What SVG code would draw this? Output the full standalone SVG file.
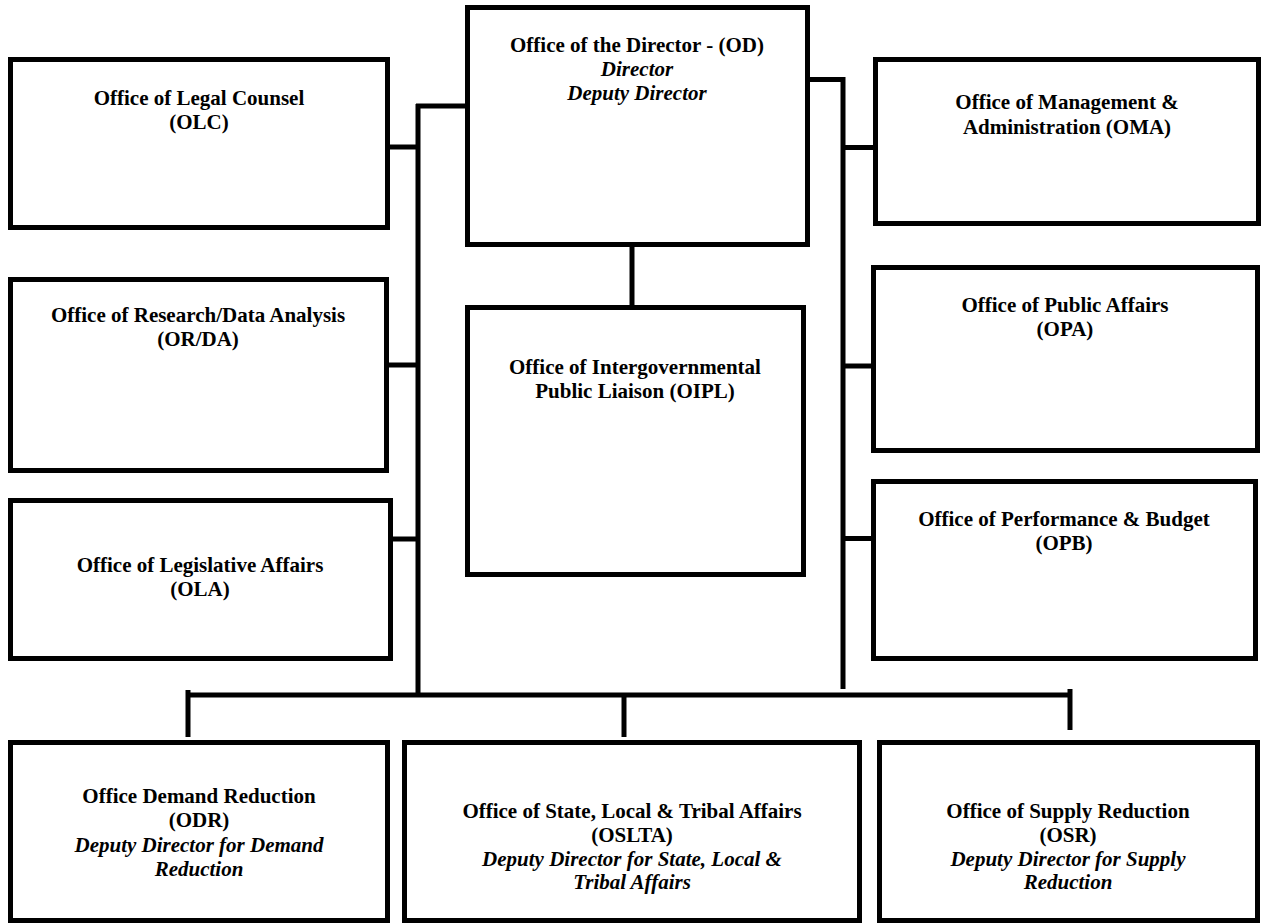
<svg xmlns="http://www.w3.org/2000/svg" width="1262" height="924" viewBox="0 0 1262 924">
<style>
.box{fill:#fff;stroke:#000;stroke-width:5}
.ln{fill:none;stroke:#000;stroke-width:5}
text{font-family:"Liberation Serif","Times New Roman",serif;font-size:21px;font-weight:bold;text-anchor:middle;fill:#000}
.it{font-style:italic}
</style>
<rect width="1262" height="924" fill="#fff"/>
<g id="connectors">
<path class="ln" d="M418,104 V697"/>
<path class="ln" d="M416,106 H467"/>
<path class="ln" d="M390,147 H418"/>
<path class="ln" d="M389,365 H418"/>
<path class="ln" d="M393,539 H418"/>
<path class="ln" d="M843,77 V689"/>
<path class="ln" d="M808,79.5 H845"/>
<path class="ln" d="M843,147.5 H875"/>
<path class="ln" d="M843,366 H873"/>
<path class="ln" d="M843,538.5 H873"/>
<path class="ln" d="M632,247 V307"/>
<path class="ln" d="M186,695 H1072"/>
<path class="ln" d="M188,690 V737"/>
<path class="ln" d="M624,695 V737"/>
<path class="ln" d="M1070,689 V730"/>
</g>
<g id="OLC">
<rect class="box" x="10.5" y="59.5" width="377" height="168"/>
<text x="199" y="105">Office of Legal Counsel</text>
<text x="199" y="129">(OLC)</text>
</g>
<g id="OD">
<rect class="box" x="467.5" y="7.5" width="340" height="237"/>
<text x="637" y="52">Office of the Director - (OD)</text>
<text x="637" y="76" class="it">Director</text>
<text x="637" y="100" class="it">Deputy Director</text>
</g>
<g id="OIPL">
<rect class="box" x="467.5" y="307.5" width="336" height="267"/>
<text x="635" y="374">Office of Intergovernmental</text>
<text x="635" y="398">Public Liaison (OIPL)</text>
</g>
<g id="OMA">
<rect class="box" x="875.5" y="59.5" width="383" height="164"/>
<text x="1067" y="109">Office of Management &amp;</text>
<text x="1067" y="134">Administration (OMA)</text>
</g>
<g id="ORDA">
<rect class="box" x="10.5" y="279.5" width="376" height="191"/>
<text x="198" y="322">Office of Research/Data Analysis</text>
<text x="198" y="346">(OR/DA)</text>
</g>
<g id="OPA">
<rect class="box" x="873.5" y="267.5" width="384" height="183"/>
<text x="1065" y="312">Office of Public Affairs</text>
<text x="1065" y="336">(OPA)</text>
</g>
<g id="OLA">
<rect class="box" x="10.5" y="500.5" width="380" height="158"/>
<text x="200" y="572">Office of Legislative Affairs</text>
<text x="200" y="596">(OLA)</text>
</g>
<g id="OPB">
<rect class="box" x="873.5" y="481.5" width="382" height="177"/>
<text x="1064" y="526">Office of Performance &amp; Budget</text>
<text x="1064" y="550">(OPB)</text>
</g>
<g id="ODR">
<rect class="box" x="10.5" y="742.5" width="377" height="178"/>
<text x="199" y="803">Office Demand Reduction</text>
<text x="199" y="827">(ODR)</text>
<text x="199" y="852" class="it">Deputy Director for Demand</text>
<text x="199" y="876" class="it">Reduction</text>
</g>
<g id="OSLTA">
<rect class="box" x="404.5" y="742.5" width="455" height="178"/>
<text x="632" y="818">Office of State, Local &amp; Tribal Affairs</text>
<text x="632" y="842">(OSLTA)</text>
<text x="632" y="866" class="it">Deputy Director for State, Local &amp;</text>
<text x="632" y="889" class="it">Tribal Affairs</text>
</g>
<g id="OSR">
<rect class="box" x="879.5" y="742.5" width="378" height="178"/>
<text x="1068" y="818">Office of Supply Reduction</text>
<text x="1068" y="842">(OSR)</text>
<text x="1068" y="866" class="it">Deputy Director for Supply</text>
<text x="1068" y="889" class="it">Reduction</text>
</g>
</svg>
